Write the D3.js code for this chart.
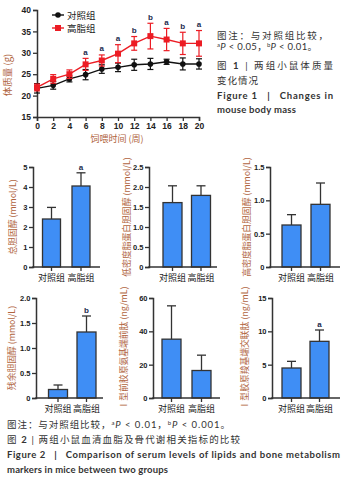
<!DOCTYPE html>
<html><head><meta charset="utf-8">
<script src="https://cdn.jsdelivr.net/npm/d3@7"></script>
<style>
html,body{margin:0;padding:0;background:#fff;}
svg{display:block;}
text{font-family:"Liberation Sans","Noto Sans CJK SC",sans-serif;}
.cjk{font-family:"Noto Sans CJK SC",sans-serif;}
</style></head>
<body>
<svg id="c" width="350" height="482"></svg>
<script>
// ---------- DATA ----------
const weeks = [0,2,4,6,8,10,12,14,16,18,20];
const controlMass = [21.7,22.4,23.9,24.9,26.2,26.6,27.2,27.4,27.9,27.4,27.4];
const controlMassErr = [1.1,0.9,0.7,1.2,1.0,1.0,1.3,1.3,0.6,1.4,1.2];
const highFatMass = [21.9,23.9,25.0,27.3,28.2,29.8,32.2,33.9,33.1,32.2,32.2];
const highFatMassErr = [0.8,1.0,1.0,1.4,1.3,2.1,1.6,3.0,2.6,2.6,3.0];
const massSig = ["","","","a","a","a","b","b","a","b","a"];
const massTicksY = [15,20,25,30,35,40];
const massTicksX = [0,2,4,6,8,10,12,14,16,18,20];
const groups = ["对照组","高脂组"];
const seriesNames = ["对照组","高脂组"];

const tcValues = [2.4,4.05], tcErr = [0.58,0.66], tcSig = ["","a"], tcTicks = [0,1,2,3,4,5];
const ldlValues = [1.61,1.79], ldlErr = [0.42,0.24], ldlSig = ["",""], ldlTicks = [0,0.5,1.0,1.5,2.0,2.5];
const hdlValues = [0.63,0.94], hdlErr = [0.155,0.32], hdlSig = ["",""], hdlTicks = [0,0.5,1.0,1.5];
const rcValues = [0.17,1.32], rcErr = [0.09,0.32], rcSig = ["","b"], rcTicks = [0,0.5,1.0,1.5,2.0];
const pinpValues = [35.3,16.5], pinpErr = [20,9.2], pinpSig = ["",""], pinpTicks = [0,20,40,60];
const ctxValues = [4.5,8.5], ctxErr = [1.0,1.7], ctxSig = ["","a"], ctxTicks = [0,5,10,15];

// ---------- STYLE ----------
const AX = "#333", LBL = "#b0643e", BAR = "#3f8ef5", SIG = "#1c2b4e", RED = "#ec1c24";
const svg = d3.select("#c");

// ---------- FIGURE 1: line chart ----------
const x = d3.scaleLinear().domain([0,20]).range([37,199]);
const y = d3.scaleLinear().domain([15,40]).range([117,10]);

const gy = svg.append("g").attr("transform","translate(37,0)")
  .call(d3.axisLeft(y).tickValues(massTicksY).tickSize(4).tickPadding(2));
const gx = svg.append("g").attr("transform","translate(0,117)")
  .call(d3.axisBottom(x).tickValues(massTicksX).tickSize(4).tickPadding(2));
[gy,gx].forEach(g=>{
  g.select(".domain").attr("stroke",AX).attr("stroke-width",1.5);
  g.selectAll(".tick line").attr("stroke",AX).attr("stroke-width",1.3);
  g.selectAll(".tick text").attr("fill","#222").style("font-size","8.5px").style("font-weight","bold")
   .style("font-family","Liberation Sans, sans-serif");
});

svg.append("text").attr("class","cjk").attr("transform","translate(11,75) rotate(-90)")
  .attr("text-anchor","middle").attr("fill",LBL).style("font-size","9.5px").text("体质量 (g)");
svg.append("text").attr("class","cjk").attr("x",117).attr("y",142)
  .attr("text-anchor","middle").attr("fill",LBL).style("font-size","9px").text("饲喂时间 (周)");

function drawSeries(vals, errs, color, shape){
  const pts = weeks.map((w,i)=>({w, v:vals[i], e:errs[i]}));
  const g = svg.append("g");
  pts.forEach(p=>{
    g.append("line").attr("x1",x(p.w)).attr("x2",x(p.w)).attr("y1",y(p.v-p.e)).attr("y2",y(p.v+p.e))
      .attr("stroke",color).attr("stroke-width",1.2);
    [p.v-p.e,p.v+p.e].forEach(vv=>g.append("line").attr("x1",x(p.w)-3).attr("x2",x(p.w)+3)
      .attr("y1",y(vv)).attr("y2",y(vv)).attr("stroke",color).attr("stroke-width",1.2));
  });
  g.append("path").datum(pts).attr("fill","none").attr("stroke",color).attr("stroke-width",1.4)
    .attr("d",d3.line().x(d=>x(d.w)).y(d=>y(d.v)));
  pts.forEach(p=>{
    if(shape==="circle") g.append("circle").attr("cx",x(p.w)).attr("cy",y(p.v)).attr("r",2.8).attr("fill",color);
    else g.append("rect").attr("x",x(p.w)-3).attr("y",y(p.v)-3).attr("width",6).attr("height",6).attr("fill",color);
  });
}
drawSeries(controlMass, controlMassErr, "#111", "circle");
drawSeries(highFatMass, highFatMassErr, RED, "square");

weeks.forEach((w,i)=>{
  if(massSig[i]) svg.append("text").attr("x",x(w)).attr("y",y(highFatMass[i]+highFatMassErr[i])-3.5)
    .attr("text-anchor","middle").attr("fill",SIG).style("font-size","8px").style("font-weight","bold").text(massSig[i]);
});

// legend
[[seriesNames[0],"#111","circle",15],[seriesNames[1],RED,"square",28]].forEach(([name,col,shape,ly])=>{
  svg.append("line").attr("x1",52).attr("x2",64).attr("y1",ly).attr("y2",ly).attr("stroke",col).attr("stroke-width",1.4);
  if(shape==="circle") svg.append("circle").attr("cx",58).attr("cy",ly).attr("r",2.8).attr("fill",col);
  else svg.append("rect").attr("x",55).attr("y",ly-3).attr("width",6).attr("height",6).attr("fill",col);
  svg.append("text").attr("class","cjk").attr("x",67).attr("y",ly+3.5).attr("fill","#222")
    .style("font-size","9.5px").text(name);
});

// ---------- caption helper ----------
function cap(xp, yp, len, parts, opts={}){
  const t = svg.append("text").attr("x",xp).attr("y",yp).attr("fill","#333")
    .style("font-size",(opts.size||9.5)+"px").style("white-space","pre")
    .style("font-family","Lato, 'Noto Sans CJK SC', sans-serif");
  if(opts.bold) t.style("font-weight","bold");
  if(len) t.attr("textLength",len).attr("lengthAdjust","spacing");
  parts.forEach(p=>{
    const s = t.append("tspan").text(p.t);
    if(p.sup){ s.attr("baseline-shift","super").style("font-size","6px"); }
    if(p.it) s.style("font-style","italic");
    if(p.b) s.style("font-weight","bold");
  });
}
cap(217,39,111,[{t:"图注：与对照组比较，"}]);
cap(217,50,100,[{t:"a",sup:1},{t:"P",it:1},{t:" < 0.05，"},{t:"b",sup:1},{t:"P",it:1},{t:" < 0.01。"}]);
cap(217,69,116,[{t:"图 "},{t:"1",b:1},{t:" | 两组小鼠体质量"}],{});
cap(217,84,41,[{t:"变化情况"}]);
cap(217,99,116,[{t:"Figure 1   |   Changes in"}],{bold:1});
cap(217,113,79,[{t:"mouse body mass"}],{bold:1});

// ---------- FIGURE 2: bar panels ----------
const panels = [
  {vals:tcValues, err:tcErr, sig:tcSig, ticks:tcTicks, max:5, label:"总胆固醇 (mmol/L)", ax0:33, ax1:100, c:[51.5,81], bw:18, top:167, bot:267, lx:13, fmt:d3.format("d")},
  {vals:ldlValues, err:ldlErr, sig:ldlSig, ticks:ldlTicks, max:2.5, label:"低密度脂蛋白胆固醇 (mmol/L)", ax0:149, ax1:217, c:[172.5,201], bw:19, top:167, bot:267, lx:127},
  {vals:hdlValues, err:hdlErr, sig:hdlSig, ticks:hdlTicks, max:1.5, label:"高密度脂蛋白胆固醇 (mmol/L)", ax0:270, ax1:340, c:[291.5,320.5], bw:19, top:167, bot:267, lx:247},
  {vals:rcValues, err:rcErr, sig:rcSig, ticks:rcTicks, max:2.0, label:"残余胆固醇 (mmol/L)", ax0:36, ax1:103, c:[58,86.5], bw:19, top:298, bot:398, lx:12},
  {vals:pinpValues, err:pinpErr, sig:pinpSig, ticks:pinpTicks, max:60, label:"Ⅰ型前胶原氨基端前肽 (ng/mL)", ax0:153, ax1:220, c:[171.5,201.5], bw:19, top:298, bot:398, lx:124, fmt:d3.format("d")},
  {vals:ctxValues, err:ctxErr, sig:ctxSig, ticks:ctxTicks, max:15, label:"Ⅰ型胶原羧基端交联肽 (ng/mL)", ax0:272, ax1:340, c:[291.5,319.5], bw:19, top:298, bot:398, lx:245, fmt:d3.format("d")}
];
const fmtDec = d => d===0 ? "0" : d3.format(".1f")(d);

panels.forEach(P=>{
  const step = P.c[1]-P.c[0];
  const p = 1 - P.bw/step;
  const xb = d3.scaleBand().domain(groups).range([P.c[0]-step/2, P.c[1]+step/2]).paddingInner(p).paddingOuter(p/2);
  const yb = d3.scaleLinear().domain([0,P.max]).range([P.bot,P.top]);
  const g = svg.append("g");
  groups.forEach((k,i)=>{
    const v = P.vals[i], e = P.err[i], cx = xb(k)+xb.bandwidth()/2;
    g.append("line").attr("x1",cx).attr("x2",cx).attr("y1",yb(v)).attr("y2",yb(v+e)).attr("stroke",AX).attr("stroke-width",1.3);
    g.append("line").attr("x1",cx-4.5).attr("x2",cx+4.5).attr("y1",yb(v+e)).attr("y2",yb(v+e)).attr("stroke",AX).attr("stroke-width",1.3);
    g.append("rect").attr("x",xb(k)).attr("y",yb(v)).attr("width",xb.bandwidth()).attr("height",yb(0)-yb(v))
      .attr("fill",BAR).attr("stroke",AX).attr("stroke-width",1.3);
    if(P.sig[i]) g.append("text").attr("x",cx).attr("y",yb(v+e)-3).attr("text-anchor","middle")
      .attr("fill",SIG).style("font-size","8px").style("font-weight","bold").text(P.sig[i]);
  });
  const ga = svg.append("g").attr("transform",`translate(${P.ax0},0)`)
    .call(d3.axisLeft(yb).tickValues(P.ticks).tickFormat(P.fmt||fmtDec).tickSize(4).tickPadding(1.5));
  ga.selectAll(".tick text").attr("fill","#222").style("font-size","7.5px").style("font-weight","bold");
  ga.selectAll(".tick line").attr("stroke",AX).attr("stroke-width",1.3);
  ga.select(".domain").attr("stroke",AX).attr("stroke-width",1.5);
  svg.append("line").attr("x1",P.ax0-0.75).attr("x2",P.ax1).attr("y1",P.bot).attr("y2",P.bot).attr("stroke",AX).attr("stroke-width",1.5);
  groups.forEach(k=>{
    const cx = xb(k)+xb.bandwidth()/2;
    svg.append("line").attr("x1",cx).attr("x2",cx).attr("y1",P.bot).attr("y2",P.bot+4).attr("stroke",AX).attr("stroke-width",1.3);
    svg.append("text").attr("class","cjk").attr("x",cx).attr("y",P.bot+14).attr("text-anchor","middle")
      .attr("fill","#222").style("font-size","9px").text(k);
  });
  svg.append("text").attr("class","cjk").attr("transform",`translate(${P.lx},${(P.top+P.bot)/2}) rotate(-90)`)
    .attr("text-anchor","middle").attr("dy","0.35em").attr("fill",LBL).style("font-size","8.8px").text(P.label);
});

cap(7,428,223,[{t:"图注：与对照组比较，"},{t:"a",sup:1},{t:"P",it:1},{t:" < 0.01，"},{t:"b",sup:1},{t:"P",it:1},{t:" < 0.001。"}]);
cap(7,443,233,[{t:"图 "},{t:"2",b:1},{t:" | 两组小鼠血清血脂及骨代谢相关指标的比较"}]);
cap(7,458,333,[{t:"Figure 2   |   Comparison of serum levels of lipids and bone metabolism"}],{bold:1});
cap(7,473,161,[{t:"markers in mice between two groups"}],{bold:1});
</script>
</body></html>
